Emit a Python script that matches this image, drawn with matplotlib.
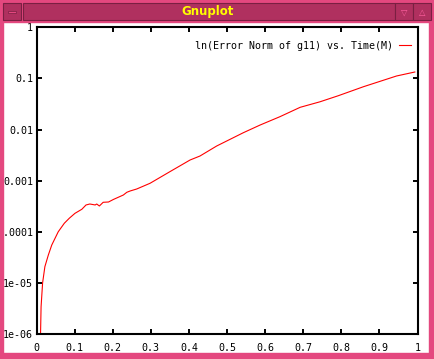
import matplotlib
matplotlib.use("Agg")
import matplotlib.pyplot as plt
from matplotlib.patches import Rectangle

# ---- data ----
time_m = [0.0105, 0.012, 0.016, 0.022, 0.031, 0.040, 0.057, 0.073, 0.086, 0.101,
          0.119, 0.130, 0.140, 0.154, 0.158, 0.165, 0.175, 0.189, 0.202, 0.228,
          0.237, 0.246, 0.263, 0.298, 0.350, 0.403, 0.429, 0.473, 0.543, 0.587,
          0.639, 0.692, 0.744, 0.792, 0.858, 0.945, 0.993]
err_norm = [9e-7, 3.4e-6, 1.0e-5, 2.08e-5, 3.5e-5, 5.5e-5, 1.0e-4, 1.47e-4, 1.84e-4, 2.3e-4,
            2.76e-4, 3.35e-4, 3.5e-4, 3.35e-4, 3.5e-4, 3.2e-4, 3.78e-4, 3.83e-4, 4.3e-4, 5.25e-4,
            5.93e-4, 6.3e-4, 6.88e-4, 8.9e-4, 1.5e-3, 2.54e-3, 3.04e-3, 4.78e-3, 8.7e-3, 1.23e-2,
            1.79e-2, 2.73e-2, 3.5e-2, 4.6e-2, 6.9e-2, 0.112, 0.134]
x_ticks = [0, 0.1, 0.2, 0.3, 0.4, 0.5, 0.6, 0.7, 0.8, 0.9, 1]
x_tick_labels = ["0", "0.1", "0.2", "0.3", "0.4", "0.5", "0.6", "0.7", "0.8", "0.9", "1"]
y_ticks = [1e-6, 1e-5, 1e-4, 1e-3, 1e-2, 1e-1, 1]
y_tick_labels = ["1e-06", "1e-05", "0.0001", "0.001", "0.01", "0.1", "1"]
legend_label = "ln(Error Norm of g11) vs. Time(M)"
window_title = "Gnuplot"

W, H = 434, 359
fig = plt.figure(figsize=(W / 100, H / 100), dpi=100)
fig.patch.set_facecolor("white")

mono = ["DejaVu Sans Mono"]
plt.rcParams["font.family"] = mono
FS = 7.2

def fx(px):
    return px / W

def fy(py):
    return 1 - py / H

# axes placement (pixel coords of the reference)
left_px, right_px, top_px, bot_px = 36.5, 417.5, 27.4, 334.0
ax = fig.add_axes([fx(left_px), fy(bot_px), (right_px - left_px) / W, (bot_px - top_px) / H])

ax.plot(time_m, err_norm, color="#ff0000", lw=0.8, label=legend_label)
ax.set_yscale("log")
ax.set_xlim(0, 1)
ax.set_ylim(1e-6, 1)
ax.set_xticks(x_ticks)
ax.set_xticklabels(x_tick_labels)
ax.set_yticks(y_ticks)
ax.set_yticklabels(y_tick_labels)
ax.minorticks_off()
ax.tick_params(direction="in", length=3.5, width=1.4, top=True, right=True,
               labelsize=FS, colors="black")
ax.tick_params(axis="y", pad=2.5)
ax.tick_params(axis="x", pad=6.5)
for s in ax.spines.values():
    s.set_linewidth(1.5)
    s.set_color("black")

leg = ax.legend(loc="upper right", bbox_to_anchor=(1.0, 0.98), frameon=False,
                markerfirst=False, handlelength=1.15, handletextpad=0.6,
                borderaxespad=0.3, prop={"family": mono, "size": FS})

# ---- window chrome ----
border = "#e4487f"
bar = "#b0305f"
dark = "#7a1f42"
# borders
fig.add_artist(Rectangle((0, 0), fx(3), 1, transform=fig.transFigure, color=border, zorder=20))
fig.add_artist(Rectangle((fx(429), 0), fx(5), 1, transform=fig.transFigure, color=border, zorder=20))
fig.add_artist(Rectangle((0, 0), 1, fy(353), transform=fig.transFigure, color=border, zorder=20))
fig.add_artist(Rectangle((0, fy(22)), 1, 22 / H, transform=fig.transFigure, color=border, zorder=20))
# title bar
fig.add_artist(Rectangle((fx(23), fy(20)), fx(372), 17 / H, transform=fig.transFigure,
                         facecolor=bar, edgecolor=dark, lw=0.8, zorder=21))
# buttons
for bx in (3, 395, 413):
    fig.add_artist(Rectangle((fx(bx), fy(20)), fx(18), 17 / H, transform=fig.transFigure,
                             facecolor=bar, edgecolor=dark, lw=0.8, zorder=21))
fig.add_artist(Rectangle((fx(8), fy(13)), fx(8), 2 / H, transform=fig.transFigure,
                         facecolor=border, edgecolor=dark, lw=0.5, zorder=22))
fig.text(fx(404), fy(12), "\u25bd", color="#ff5fa0", fontsize=6, ha="center", va="center",
         family=["DejaVu Sans"], zorder=22)
fig.text(fx(422), fy(12), "\u25b3", color="#ff5fa0", fontsize=6, ha="center", va="center",
         family=["DejaVu Sans"], zorder=22)
fig.text(fx(208), fy(11.5), window_title, color="#ffff00", fontsize=8.5, fontweight="bold",
         ha="center", va="center", family=["DejaVu Sans"], zorder=22)

fig.savefig("out.png", dpi=100)
